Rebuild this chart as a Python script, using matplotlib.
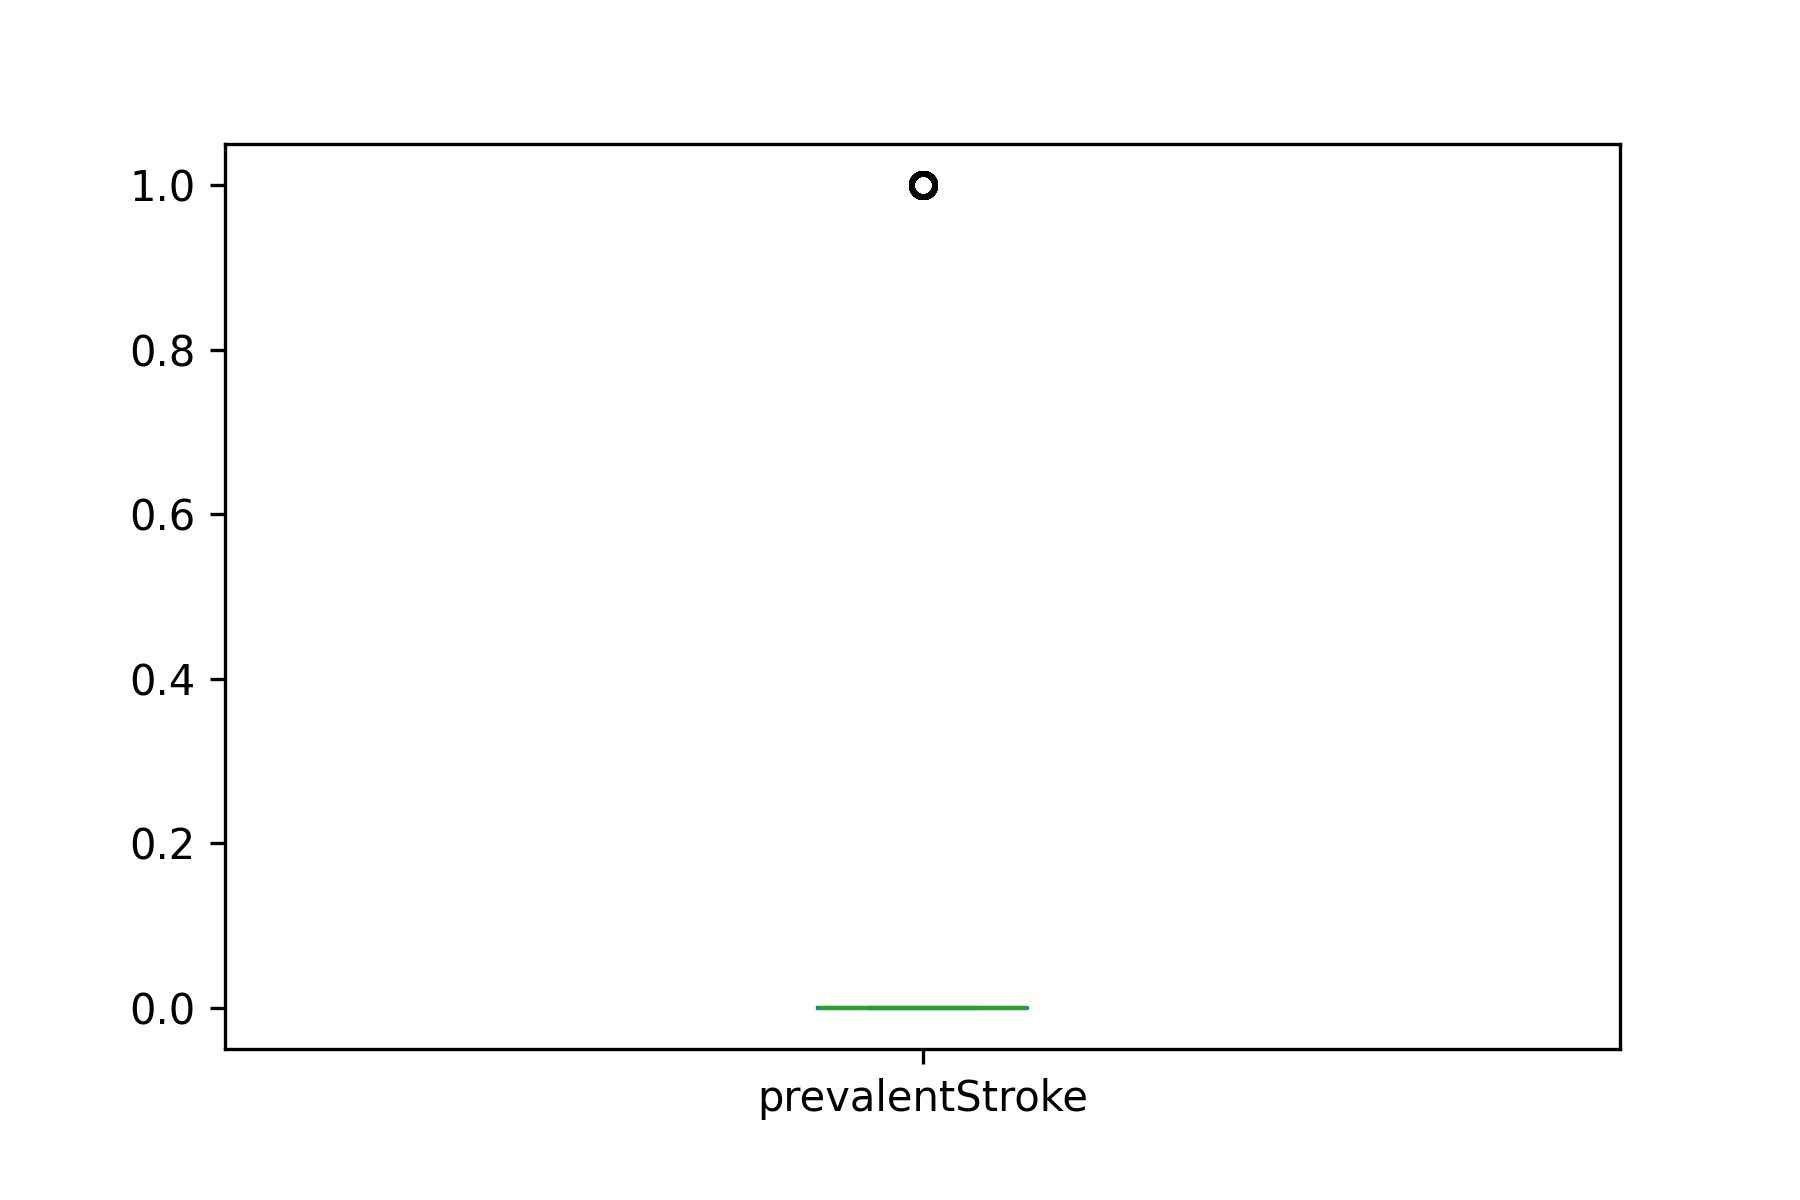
import pandas as pd
import matplotlib
matplotlib.use('Agg')
from matplotlib import pyplot as plt

# prevalentStroke column: binary flag, almost all zeros
n_zero = 4215
n_one = 25
prevalentStroke = [0] * n_zero + [1] * n_one

df = pd.DataFrame({'prevalentStroke': prevalentStroke})

fig = plt.figure(figsize=(6, 4), dpi=300)
ax = fig.add_subplot(111)
df.plot.box(ax=ax, flierprops=dict(markersize=5.6, markeredgewidth=1.35))
fig.subplots_adjust(bottom=0.126)
plt.savefig('out.png', dpi=300)
